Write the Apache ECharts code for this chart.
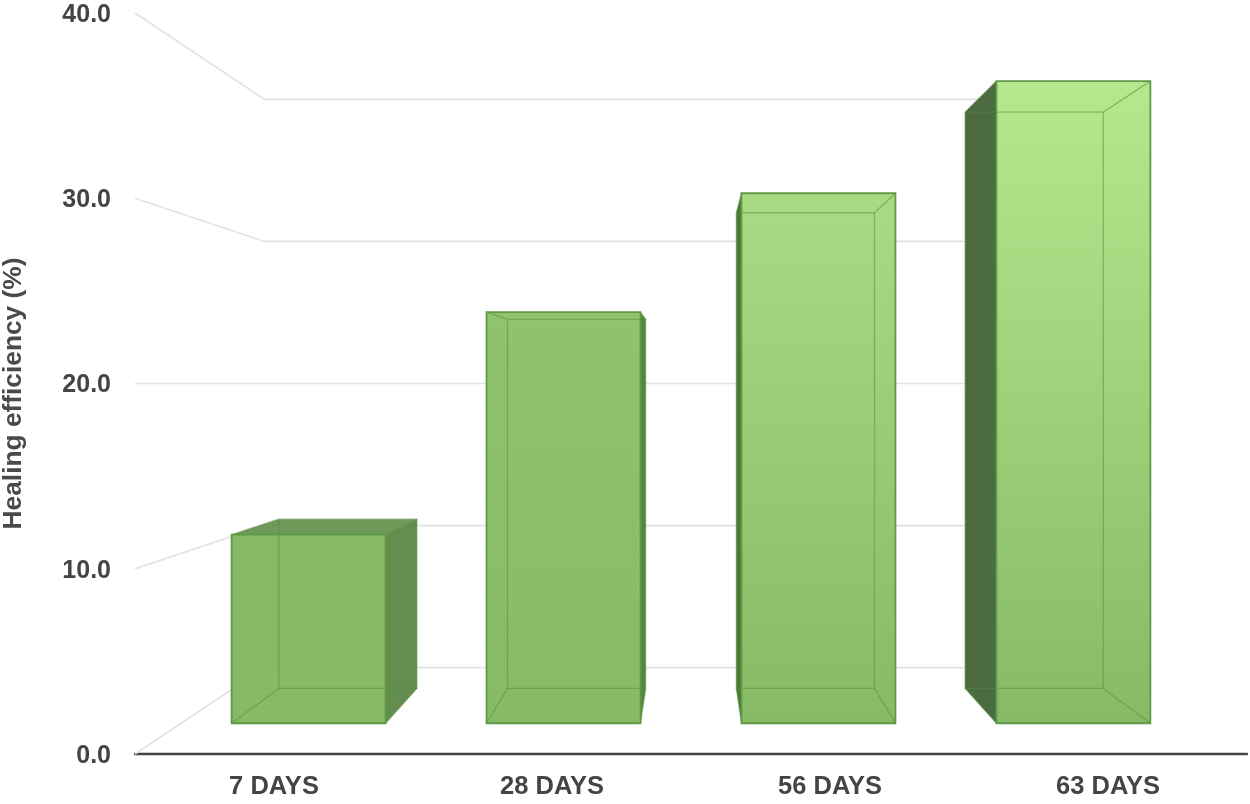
<!DOCTYPE html>
<html>
<head>
<meta charset="utf-8">
<style>html,body{margin:0;padding:0;background:#fff}#c{width:1250px;height:804px}</style>
<script src="https://cdn.jsdelivr.net/npm/echarts@6/dist/echarts.min.js"></script>
</head>
<body>
<div id="c"></div>
<script>
var categories = ['7 DAYS', '28 DAYS', '56 DAYS', '63 DAYS'];
var healing = [11.1, 24.2, 31.2, 37.8];
var yTicks = [0, 10, 20, 30, 40];

var topColors = ['#7fb65d', '#8abf67', '#a3d97c', '#b1e688'];
var sideColors = ['#5f8a49', '#4f8239', '#427632', '#46663a'];
var FRONT = 0.917, BACK = 0.823, WALL = 0.767, BAR_FRACTION = 0.604;

function vanish(cs) { return [cs.x + cs.width / 2, cs.y + cs.height / 2]; }
function proj(v, x, y, s) { return [v[0] + s * (x - v[0]), v[1] + s * (y - v[1])]; }

function renderWall(params, api) {
  var cs = params.coordSys, v = vanish(cs);
  var y = api.coord([0, api.value(0)])[1];
  var a = [cs.x, y];
  var b = proj(v, cs.x, y, WALL);
  var c = proj(v, cs.x + cs.width, y, WALL);
  return { type: 'polyline', silent: true,
    shape: { points: [a, b, c] },
    style: { fill: null, stroke: '#e2e2e2', lineWidth: 1.6 } };
}

function renderBar(params, api) {
  var cs = params.coordSys, v = vanish(cs), i = params.dataIndex;
  var cx = api.coord([i, 0])[0], y0 = api.coord([i, 0])[1], y1 = api.coord([i, api.value(1)])[1];
  var w = api.size([1, 0])[0] * BAR_FRACTION / 2;
  var l = cx - w, r = cx + w;
  var fTL = proj(v, l, y1, FRONT), fTR = proj(v, r, y1, FRONT), fBL = proj(v, l, y0, FRONT), fBR = proj(v, r, y0, FRONT);
  var bTL = proj(v, l, y1, BACK), bTR = proj(v, r, y1, BACK), bBL = proj(v, l, y0, BACK), bBR = proj(v, r, y0, BACK);
  var kids = [];
  function poly(points, fill, opacity) {
    kids.push({ type: 'polygon', silent: true, shape: { points: points }, style: { fill: fill, opacity: opacity, stroke: null } });
  }
  function line(points, color, width) {
    kids.push({ type: 'polyline', silent: true, shape: { points: points }, style: { fill: null, stroke: color, lineWidth: width } });
  }
  if (fTR[0] < bTR[0]) poly([fTR, bTR, bBR, fBR], sideColors[i], 0.97);
  if (fTL[0] > bTL[0]) poly([fTL, bTL, bBL, fBL], sideColors[i], 0.97);
  if (bTL[1] < fTL[1]) poly([fTL, bTL, bTR, fTR], '#6a9654', 0.97);
  poly([fTL, fTR, fBR, fBL], {
    type: 'linear', global: true, x: 0, y: fTL[1], x2: 0, y2: fBL[1],
    colorStops: [{ offset: 0, color: topColors[i] }, { offset: 1, color: '#81b65e' }]
  }, 0.95);
  var edge = 'rgba(85,140,60,0.5)';
  line([bTL, bTR, bBR, bBL, bTL], edge, 1.3);
  line([fTL, bTL], edge, 1.3);
  line([fTR, bTR], edge, 1.3);
  line([fBL, bBL], edge, 1.3);
  line([fBR, bBR], edge, 1.3);
  kids.push({ type: 'polygon', silent: true, shape: { points: [fTL, fTR, fBR, fBL] },
    style: { fill: null, stroke: '#5f9a44', lineWidth: 1.8 } });
  return { type: 'group', children: kids };
}

var chart = echarts.init(document.getElementById('c'), null, { renderer: 'canvas' });
var font = '"Liberation Sans", Arial, sans-serif';
chart.setOption({
  animation: false,
  backgroundColor: '#ffffff',
  grid: { left: 135, right: 3, top: 13, bottom: 50, containLabel: false, outerBoundsMode: 'none' },
  xAxis: {
    type: 'category', data: categories,
    axisTick: { show: false },
    axisLine: { show: true, lineStyle: { color: '#444444', width: 2.4 } },
    axisLabel: { margin: 20, fontFamily: font, fontWeight: 'bold', fontSize: 25.5, color: '#444444' }
  },
  yAxis: {
    type: 'value', min: 0, max: 40, interval: 10,
    name: 'Healing efficiency (%)', nameLocation: 'middle', nameGap: 108,
    nameTextStyle: { fontFamily: font, fontWeight: 'bold', fontSize: 26.3, color: '#4a4a4a', padding: [0, 20, 0, 0] },
    axisLine: { show: false }, axisTick: { show: false }, splitLine: { show: false },
    axisLabel: { margin: 24, fontFamily: font, fontWeight: 'bold', fontSize: 25, color: '#444444',
      lineHeight: 4, verticalAlign: 'top', formatter: function (val) { return val.toFixed(1); } }
  },
  series: [
    { type: 'custom', coordinateSystem: 'cartesian2d', clip: false, silent: true, z: 1,
      renderItem: renderWall, data: yTicks.map(function (t) { return [t]; }), encode: { y: 0 } },
    { type: 'custom', coordinateSystem: 'cartesian2d', clip: false, silent: true, z: 2,
      renderItem: renderBar, data: healing.map(function (h, i) { return [i, h]; }), encode: { x: 0, y: 1 } }
  ]
});
</script>
</body>
</html>
